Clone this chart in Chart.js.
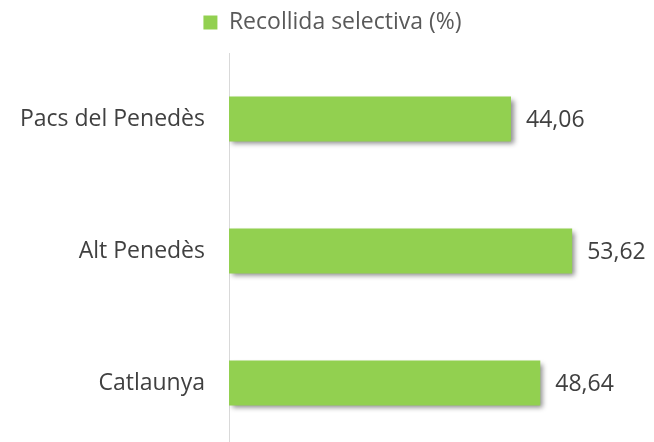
<!DOCTYPE html>
<html>
<head>
<meta charset="utf-8">
<script src="https://cdn.jsdelivr.net/npm/chart.js@4"></script>
<style>
    html, body { margin: 0; padding: 0; background: #ffffff; overflow: hidden; }
    canvas { display: block; }
</style>
</head>
<body>
<canvas id="chart" width="654" height="450"></canvas>
<script>
// dades
const categories = ['Pacs del Penedès', 'Alt Penedès', 'Catlaunya'];
const values = [44.06, 53.62, 48.64];
const seriesName = 'Recollida selectiva (%)';

const barColor = '#92D050';
const textColor = '#404040';
const fontFamily = '"Open Sans", sans-serif';
const fontSize = 23;

// ombra sota les barres
const shadowPlugin = {
    id: 'barShadow',
    beforeDatasetDraw(chart) {
        const ctx = chart.ctx;
        ctx.save();
        ctx.shadowColor = 'rgba(0, 0, 0, 0.45)';
        ctx.shadowBlur = 5;
        ctx.shadowOffsetX = 3;
        ctx.shadowOffsetY = 3;
    },
    afterDatasetDraw(chart) {
        chart.ctx.restore();
    }
};

// la llegenda es centra sobre tota l'amplada, no només fins al padding dret
const legendShift = {
    id: 'legendShift',
    afterLayout(chart) {
        chart.legend.left += 26;
        chart.legend.right += 26;
    }
};

// etiquetes amb el valor al final de cada barra
const valueLabels = {
    id: 'valueLabels',
    afterDatasetsDraw(chart) {
        const ctx = chart.ctx;
        const meta = chart.getDatasetMeta(0);
        ctx.save();
        ctx.font = fontSize + 'px ' + fontFamily;
        ctx.fillStyle = textColor;
        ctx.textAlign = 'left';
        ctx.textBaseline = 'middle';
        meta.data.forEach((bar, i) => {
            const txt = values[i].toFixed(2).replace('.', ',');
            ctx.fillText(txt, bar.x + 15, bar.y + 1);
        });
        ctx.restore();
    }
};

new Chart(document.getElementById('chart'), {
    type: 'bar',
    data: {
        labels: categories,
        datasets: [{
            label: seriesName,
            data: values,
            backgroundColor: barColor,
            borderWidth: 0,
            barPercentage: 0.34,
            categoryPercentage: 1
        }]
    },
    options: {
        indexAxis: 'y',
        responsive: false,
        animation: false,
        layout: { padding: { top: 1, right: 41, bottom: 1, left: 0 } },
        scales: {
            x: {
                display: false,
                min: 0,
                max: 60
            },
            y: {
                grid: { display: false, drawTicks: false },
                border: { color: '#d9d9d9', width: 1 },
                ticks: {
                    color: textColor,
                    padding: 24,
                    font: { family: fontFamily, size: fontSize }
                },
                afterFit(scale) {
                    scale.width = 229;
                    scale.paddingTop = 0;
                    scale.paddingBottom = 0;
                }
            }
        },
        plugins: {
            legend: {
                position: 'top',
                labels: {
                    color: '#595959',
                    boxWidth: 14,
                    boxHeight: 14,
                    padding: 10,
                    font: { family: fontFamily, size: fontSize }
                }
            },
            // espai buit entre la llegenda i les barres
            title: {
                display: true,
                text: '',
                position: 'top',
                weight: 500,
                padding: 0,
                font: { size: 7.5 }
            },
            tooltip: { enabled: false }
        }
    },
    plugins: [shadowPlugin, legendShift, valueLabels]
});
</script>
</body>
</html>
